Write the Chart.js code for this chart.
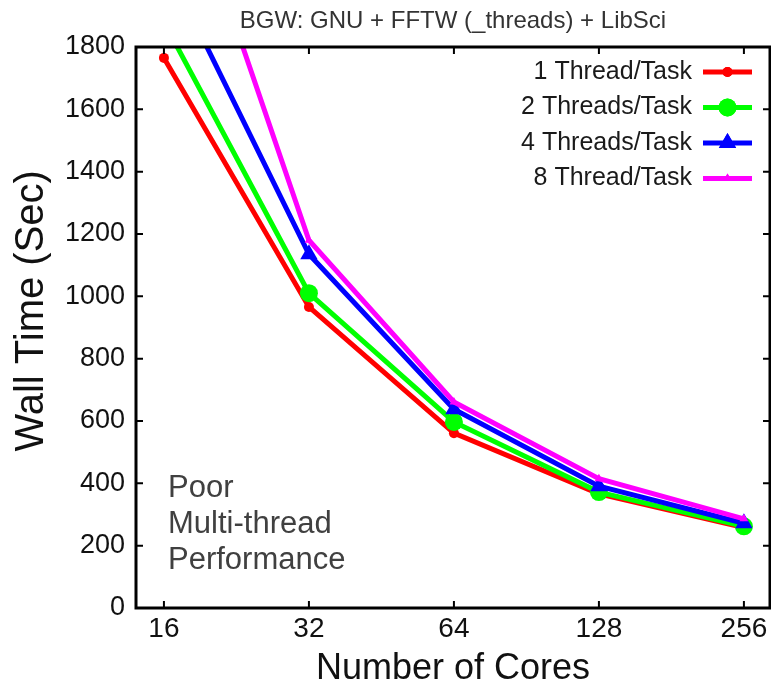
<!DOCTYPE html>
<html>
<head>
<meta charset="utf-8">
<script src="https://cdn.jsdelivr.net/npm/chart.js@4.4.1/dist/chart.umd.min.js"></script>
<style>
  html, body { margin: 0; padding: 0; background: #ffffff; }
  #wrap { width: 771px; height: 687px; position: relative; }
</style>
</head>
<body>
<div id="wrap"><canvas id="c" width="771" height="687"></canvas></div>
<script>
// ---- data ----
const cores = [16, 32, 64, 128, 256];
const oneThread   = [1765, 966, 561, 366, 258];
const twoThreads  = [1880, 1010, 597, 372, 262];
const fourThreads = [2080, 1135, 638, 391, 272];
const eightThreads = [2540, 1180, 661, 415, 286];
const yTicks = [0, 200, 400, 600, 800, 1000, 1200, 1400, 1600, 1800];
const seriesNames = ['1 Thread/Task', '2 Threads/Task', '4 Threads/Task', '8 Thread/Task'];
const titleText = 'BGW: GNU + FFTW (_threads) + LibSci';
const noteLines = ['Poor', 'Multi-thread', 'Performance'];

const FONT = "'Liberation Sans', Arial, Helvetica, sans-serif";

function pts(vals) { return cores.map((c, i) => ({ x: c, y: vals[i] })); }

const datasets = [
  { label: seriesNames[0], data: pts(oneThread), borderColor: '#ff0000', backgroundColor: '#ff0000',
    pointStyle: 'circle', pointRadius: 5, order: 4 },
  { label: seriesNames[1], data: pts(twoThreads), borderColor: '#00ff00', backgroundColor: '#00ff00',
    pointStyle: 'circle', pointRadius: 9, order: 3 },
  { label: seriesNames[2], data: pts(fourThreads), borderColor: '#0000ff', backgroundColor: '#0000ff',
    pointStyle: 'triangle', pointRadius: 10, order: 2 },
  { label: seriesNames[3], data: pts(eightThreads), borderColor: '#ff00ff', backgroundColor: '#ff00ff',
    pointStyle: 'triangle', pointRadius: 5, order: 1 }
].map(d => Object.assign({ borderWidth: 5, pointBorderWidth: 0, pointHoverRadius: d.pointRadius,
  tension: 0, fill: false }, d));

// border, inward tick marks, legend and annotation
const decor = {
  id: 'decor',
  afterDraw(chart) {
    const ctx = chart.ctx;
    const a = chart.chartArea;
    const xs = chart.scales.x, ys = chart.scales.y;
    ctx.save();
    // inward ticks
    ctx.strokeStyle = '#000';
    ctx.lineWidth = 2;
    const tl = 7;
    yTicks.forEach(v => {
      const y = ys.getPixelForValue(v);
      ctx.beginPath();
      ctx.moveTo(a.left, y); ctx.lineTo(a.left + tl, y);
      ctx.moveTo(a.right, y); ctx.lineTo(a.right - tl, y);
      ctx.stroke();
    });
    cores.forEach(v => {
      const x = xs.getPixelForValue(v);
      ctx.beginPath();
      ctx.moveTo(x, a.bottom); ctx.lineTo(x, a.bottom - tl);
      ctx.moveTo(x, a.top); ctx.lineTo(x, a.top + tl);
      ctx.stroke();
    });
    // frame
    ctx.lineWidth = 3;
    ctx.strokeRect(a.left, a.top, a.right - a.left, a.bottom - a.top);

    // legend (text left of sample, gnuplot style)
    ctx.font = '25px ' + FONT;
    ctx.textAlign = 'right';
    ctx.textBaseline = 'middle';
    const rowY0 = a.top + 25, rowStep = 35.5;
    const textRight = a.right - 78, lineL = a.right - 67, lineR = a.right - 18;
    chart.data.datasets.forEach((ds, i) => {
      const y = rowY0 + i * rowStep;
      ctx.fillStyle = '#1a1a1a';
      ctx.fillText(ds.label, textRight, y);
      ctx.strokeStyle = ds.borderColor;
      ctx.lineWidth = 5;
      ctx.beginPath(); ctx.moveTo(lineL, y); ctx.lineTo(lineR, y); ctx.stroke();
      const cx = (lineL + lineR) / 2;
      ctx.fillStyle = ds.backgroundColor;
      ctx.beginPath();
      Chart.helpers.drawPoint(ctx, { pointStyle: ds.pointStyle, radius: ds.pointRadius, borderWidth: 0, rotation: 0 }, cx, y);
      ctx.fill();
    });

    // annotation
    ctx.font = '31px ' + FONT;
    ctx.textAlign = 'left';
    ctx.textBaseline = 'alphabetic';
    ctx.fillStyle = '#404040';
    noteLines.forEach((t, i) => ctx.fillText(t, a.left + 32, 497 + i * 36));
    ctx.restore();
  }
};

new Chart(document.getElementById('c'), {
  type: 'line',
  data: { datasets },
  plugins: [decor],
  options: {
    responsive: false,
    animation: false,
    devicePixelRatio: 1,
    layout: { autoPadding: false, padding: { left: 0, right: 1, top: 0, bottom: 0 } },
    plugins: {
      legend: { display: false },
      tooltip: { enabled: false },
      title: {
        display: true,
        text: titleText,
        fullSize: false,
        color: '#333333',
        font: { family: FONT, size: 24, weight: 'normal', lineHeight: 1.2 },
        padding: { top: 7, bottom: 11.2 }
      }
    },
    scales: {
      x: {
        type: 'logarithmic',
        min: 14.0,
        max: 290,
        grid: { display: false, drawTicks: false },
        border: { display: false },
        afterBuildTicks: s => { s.ticks = cores.map(v => ({ value: v })); },
        afterFit: s => { s.height = 79; s.paddingLeft = 0; s.paddingRight = 0; },
        ticks: {
          autoSkip: false, maxRotation: 0, minRotation: 0, padding: 4,
          color: '#111', font: { family: FONT, size: 28 },
          callback: v => String(v)
        },
        title: {
          display: true, text: 'Number of Cores', color: '#111',
          font: { family: FONT, size: 36, lineHeight: 1 },
          padding: { top: 0, bottom: 0 }
        }
      },
      y: {
        type: 'linear',
        min: 0,
        max: 1800,
        grid: { display: false, drawTicks: false },
        border: { display: false },
        afterBuildTicks: s => { s.ticks = yTicks.map(v => ({ value: v })); },
        afterFit: s => { s.width = 136; s.paddingTop = 0; s.paddingBottom = 0; },
        ticks: {
          padding: 11, color: '#111', font: { family: FONT, size: 27 },
          callback: v => String(v)
        },
        title: {
          display: true, text: '\u00a0\u00a0\u00a0Wall Time (Sec)', color: '#111',
          font: { family: FONT, size: 40, lineHeight: 1 },
          padding: { top: 12, bottom: 0 }
        }
      }
    }
  }
});
</script>
</body>
</html>
